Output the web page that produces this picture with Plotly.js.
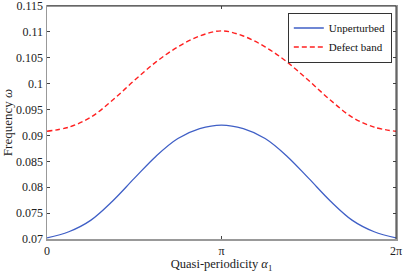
<!DOCTYPE html>
<html>
<head>
<meta charset="utf-8">
<script src="https://cdn.plot.ly/plotly-3.0.1.min.js"></script>
<style>html,body{margin:0;padding:0;background:#fff;}#chart{width:404px;height:273px;}</style>
</head>
<body>
<div id="chart"></div>
<script>
// Quasi-periodicity alpha_1 sampled at steps of pi/8 (in units of pi)
const alphaOverPi = [0, 0.125, 0.25, 0.375, 0.5, 0.625, 0.75, 0.875, 1, 1.125, 1.25, 1.375, 1.5, 1.625, 1.75, 1.875, 2];
const unperturbed = [0.0702, 0.0714, 0.0736, 0.0773, 0.0817, 0.0860, 0.0894, 0.0913, 0.0920, 0.0913, 0.0894, 0.0860, 0.0817, 0.0773, 0.0736, 0.0714, 0.0702];
const defectBand = [0.0908, 0.0916, 0.0935, 0.0968, 0.1006, 0.1042, 0.1071, 0.1092, 0.1102, 0.1092, 0.1071, 0.1042, 0.1006, 0.0968, 0.0935, 0.0916, 0.0908];
const xTickVals = [0, Math.PI, 2 * Math.PI];
const xTickText = ['0', 'π', '2π'];
const yTickVals = [0.07, 0.075, 0.08, 0.085, 0.09, 0.095, 0.1, 0.105, 0.11, 0.115];
const yTickText = ['0.07', '0.075', '0.08', '0.085', '0.09', '0.095', '0.1', '0.105', '0.11', '0.115'];

const alpha = alphaOverPi.map(a => a * Math.PI);
const FONT = 'Liberation Serif, DejaVu Serif, serif';

const traces = [
  {x: alpha, y: unperturbed, name: 'Unperturbed', mode: 'lines',
   line: {color: '#3f5fc6', width: 1.3, shape: 'spline', smoothing: 1}},
  {x: alpha, y: defectBand, name: 'Defect band', mode: 'lines',
   line: {color: '#ff2020', width: 1.4, dash: '5px,3px', shape: 'spline', smoothing: 1}}
];

const layout = {
  width: 404, height: 273,
  margin: {l: 47, r: 8, t: 6, b: 34, pad: 0},
  paper_bgcolor: '#fff', plot_bgcolor: '#fff',
  font: {family: FONT, size: 12, color: '#222'},
  showlegend: true,
  legend: {x: 0.988, y: 0.972, xanchor: 'right', yanchor: 'top',
           bgcolor: '#fff', bordercolor: '#333', borderwidth: 1,
           font: {family: FONT, size: 11, color: '#111'},
           tracegroupgap: 0, itemwidth: 30},
  xaxis: {range: [0, 2 * Math.PI], tickvals: xTickVals, ticktext: xTickText,
          ticks: 'inside', ticklen: 3, tickcolor: '#444', showgrid: false, zeroline: false,
          showline: true, linecolor: '#999', linewidth: 1.5, mirror: 'ticks',
          ticklabeloverflow: 'allow',
          tickfont: {family: FONT, size: 12, color: '#222'},
          title: {text: 'Quasi-periodicity <i>α</i><sub>1</sub>', standoff: 9,
                  font: {family: FONT, size: 12.5, color: '#222'}}},
  yaxis: {range: [0.07, 0.115], tickvals: yTickVals, ticktext: yTickText,
          ticks: 'inside', ticklen: 3, tickcolor: '#444', showgrid: false, zeroline: false,
          showline: true, linecolor: '#999', linewidth: 1.5, mirror: 'ticks',
          ticklabeloverflow: 'allow',
          tickfont: {family: FONT, size: 12, color: '#222'},
          title: {text: 'Frequency <i>ω</i>', standoff: 4,
                  font: {family: FONT, size: 13, color: '#222'}}},
  shapes: [
    {type: 'line', xref: 'paper', yref: 'paper', x0: 0, x1: 1, y0: 1, y1: 1,
     line: {color: '#333', width: 1}},
    {type: 'line', xref: 'paper', yref: 'paper', x0: 1, x1: 1, y0: 0, y1: 1,
     line: {color: '#333', width: 1}}
  ]
};

Plotly.newPlot('chart', traces, layout, {staticPlot: true, displayModeBar: false});
</script>
</body>
</html>
